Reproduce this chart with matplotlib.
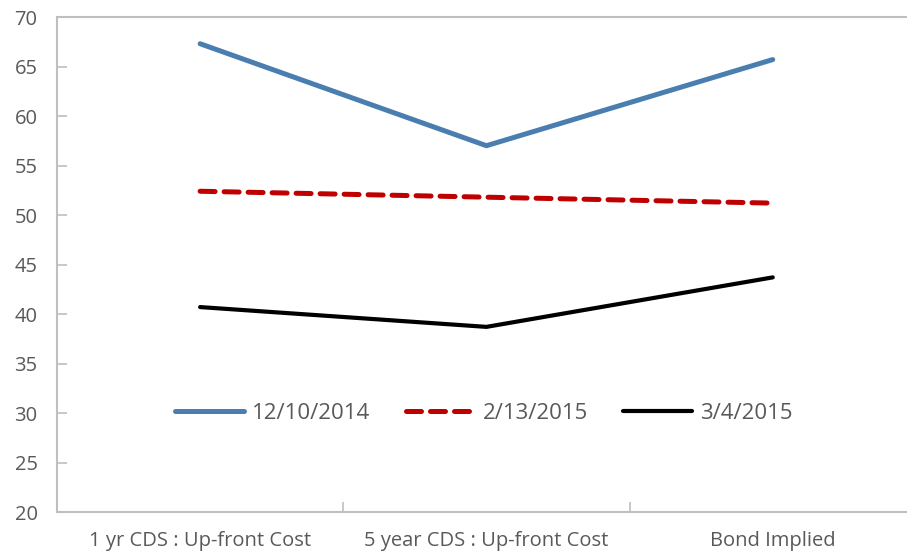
import matplotlib.pyplot as plt

categories = ["1 yr CDS : Up-front Cost", "5 year CDS : Up-front Cost", "Bond Implied"]
s_dec2014 = [67.3, 57.0, 65.7]
s_feb2015 = [52.4, 51.8, 51.2]
s_mar2015 = [40.7, 38.7, 43.7]
yticks = [20, 25, 30, 35, 40, 45, 50, 55, 60, 65, 70]

plt.rcParams["font.family"] = ["Open Sans", "DejaVu Sans"]

fig = plt.figure(figsize=(9.07, 5.54), dpi=100)
ax = fig.add_axes([0.0628, 0.0758, 0.947, 0.8935])

x = range(len(categories))
ax.plot(x, s_dec2014, color="#4a7eb0", lw=3.6, solid_capstyle="round", label="12/10/2014")
ax.plot(x, s_feb2015, color="#c00000", lw=3.6, ls=(0, (3, 1.8)), dash_capstyle="round", label="2/13/2015")
ax.plot(x, s_mar2015, color="#000000", lw=3.0, solid_capstyle="round", label="3/4/2015")

ax.set_xlim(-0.5, 2.5)
ax.set_ylim(20, 70)
ax.set_yticks(yticks)
ax.set_xticks([0.5, 1.5], minor=False)
ax.set_xticklabels([])
ax.set_xticks(list(x), minor=True)
ax.set_xticklabels(categories, minor=True)
ax.tick_params(axis="x", which="minor", length=0, pad=14, labelsize=14.5, labelcolor="#595959")
ax.tick_params(axis="x", which="major", direction="in", length=7, color="#bfbfbf", width=1.2)
ax.tick_params(axis="y", direction="in", length=7, color="#bfbfbf", width=1.2,
               labelsize=14.5, labelcolor="#595959", pad=14)

for sp in ax.spines.values():
    sp.set_color("#bfbfbf")
    sp.set_linewidth(1.5)
ax.spines["right"].set_visible(False)

leg = ax.legend(loc="center", bbox_to_anchor=(0.497, 0.2), ncol=3, frameon=False,
                fontsize=16, handlelength=3.1, columnspacing=1.6, handletextpad=0.35)
for t in leg.get_texts():
    t.set_color("#595959")

fig.savefig("out.png", dpi=100)
